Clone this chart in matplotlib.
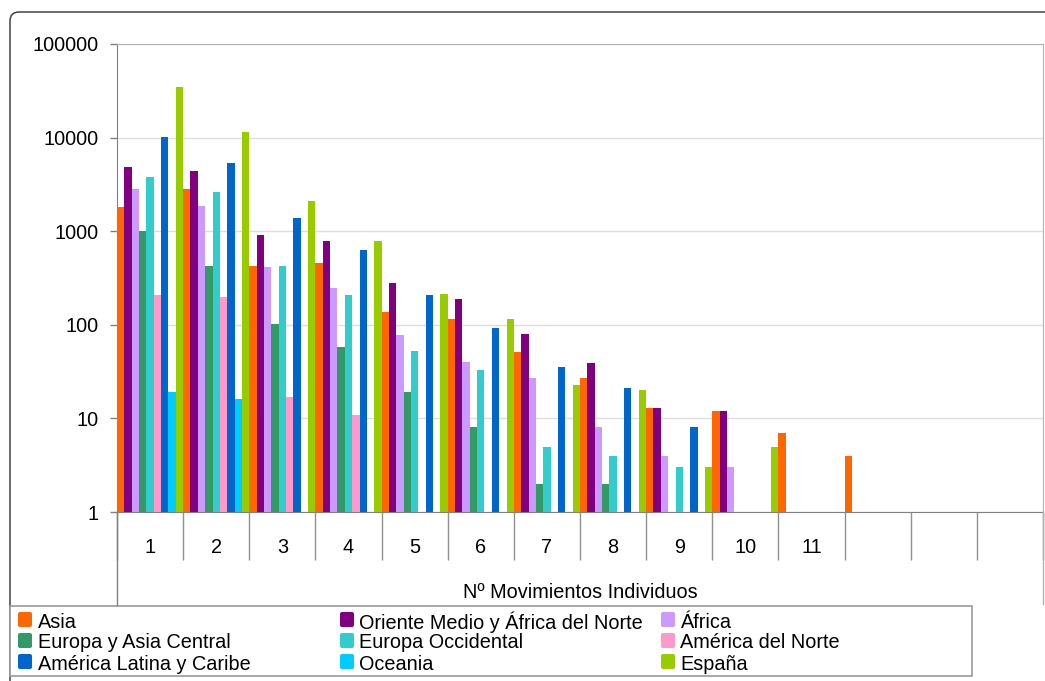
import numpy as np
import matplotlib
matplotlib.use("Agg")
import matplotlib.pyplot as plt
from matplotlib.transforms import Affine2D
from matplotlib.patches import Rectangle, FancyBboxPatch
from matplotlib.lines import Line2D

plt.rcParams['font.family'] = ['Liberation Sans', 'DejaVu Sans']

nan = np.nan
categorias = ['1', '2', '3', '4', '5', '6', '7', '8', '9', '10', '11', '', '', '']

series = ['Asia', 'Oriente Medio y África del Norte', 'África',
          'Europa y Asia Central', 'Europa Occidental', 'América del Norte',
          'América Latina y Caribe', 'Oceania', 'España']
colores = ['#ff6600', '#800080', '#cc99ff', '#339966', '#33cccc', '#ff99cc',
           '#0066cc', '#00ccff', '#99cc00']

asia = [1800, 2800, 430, 460, 138, 116, 51, 27, 13, 12, 7, 4, nan, nan]
oriente = [4900, 4400, 910, 780, 280, 188, 79, 39, 13, 12, nan, nan, nan, nan]
africa = [2850, 1850, 410, 245, 77, 40, 27, 8, 4, 3, nan, nan, nan, nan]
europa_ac = [1000, 425, 102, 58, 19, 8, 2, 2, nan, nan, nan, nan, nan, nan]
europa_occ = [3800, 2600, 425, 206, 53, 33, 5, 4, 3, nan, nan, nan, nan, nan]
am_norte = [206, 200, 17, 11, nan, nan, nan, nan, nan, nan, nan, nan, nan, nan]
am_latina = [10200, 5300, 1400, 630, 208, 92, 35, 21, 8, nan, nan, nan, nan, nan]
oceania = [19, 16, nan, nan, nan, nan, nan, nan, nan, nan, nan, nan, nan, nan]
espana = [35000, 11400, 2100, 780, 213, 115, 23, 20, 3, 5, nan, nan, nan, nan]

valores = [asia, oriente, africa, europa_ac, europa_occ, am_norte,
           am_latina, oceania, espana]

W, H = 1045, 681
fig = plt.figure(figsize=(W / 100, H / 100), dpi=100)
# pixel coordinates, origin top-left
pix = Affine2D().scale(1 / W, -1 / H).translate(0, 1) + fig.transFigure

L, R, T, B = 117, 1043, 44, 512
ax = fig.add_axes([L / W, 1 - B / H, (R - L) / W, (B - T) / H])

n = len(series)
x = np.arange(len(categorias))
for i in range(n):
    ax.bar(x + i / n, valores[i], width=1 / n, align='edge', color=colores[i],
           linewidth=0, zorder=3)

ax.set_yscale('log')
ax.set_ylim(1, 100000)
ax.set_xlim(0, len(categorias))
ax.set_yticks([1, 10, 100, 1000, 10000, 100000])
ax.set_yticklabels(['1', '10', '100', '1000', '10000', '100000'])
ax.yaxis.set_minor_locator(matplotlib.ticker.NullLocator())
ax.tick_params(axis='y', which='major', length=5, width=1, color='#808080',
               pad=8, labelsize=14.3)
ax.grid(axis='y', color='#dddddd', linewidth=1, zorder=0)

ax.set_xticks(np.arange(len(categorias) + 1))
ax.set_xticklabels([])
ax.set_xticks(x + 0.5, minor=True)
ax.set_xticklabels(categorias, minor=True)
ax.tick_params(axis='x', which='major', length=34.5, width=1, color='#909090')
ax.tick_params(axis='x', which='minor', length=0, pad=18.5, labelsize=14.3)

for s in ['top', 'right']:
    ax.spines[s].set_color('#b3b3b3')
for s in ['left', 'bottom']:
    ax.spines[s].set_color('#808080')

# extension lines of the plot box down to the legend
fig.add_artist(Line2D([L, L], [B, 605], transform=pix, color='#808080', lw=1))
fig.add_artist(Line2D([R, R], [B, 604], transform=pix, color='#b3b3b3', lw=1))

fig.text(580, 592, 'Nº Movimientos Individuos', transform=pix, ha='center',
         va='center', fontsize=14.3)

# outer frame
fig.add_artist(FancyBboxPatch((10, 12), 1200, 800, transform=pix,
                              boxstyle='round,pad=0,rounding_size=9',
                              facecolor='none', edgecolor='#444444', lw=1.1))

# legend
fig.add_artist(Rectangle((10, 606), 962, 70, transform=pix, facecolor='white',
                         edgecolor='#9a9a9a', lw=1.2))
col_mark = [18, 340, 661]
col_text = [38, 359, 680]
row_y = [622, 643, 664]
for i, nombre in enumerate(series):
    r, c = i // 3, i % 3
    fig.add_artist(FancyBboxPatch((col_mark[c], row_y[r] - 10), 14, 15,
                                  transform=pix,
                                  boxstyle='round,pad=0,rounding_size=2',
                                  facecolor=colores[i], edgecolor='none'))
    fig.text(col_text[c], row_y[r], nombre, transform=pix, ha='left',
             va='center', fontsize=14.3)

fig.savefig('out.png', dpi=100)
